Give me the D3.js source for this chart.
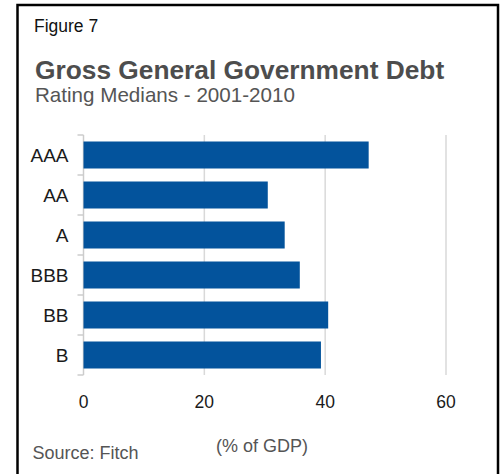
<!DOCTYPE html>
<html>
<head>
<meta charset="utf-8">
<script src="https://cdn.jsdelivr.net/npm/d3@7"></script>
<style>
  html, body { margin: 0; padding: 0; background: #fff; }
  svg { display: block; font-family: "Liberation Sans", Arial, sans-serif; }
</style>
</head>
<body>
<svg id="chart" width="502" height="474"></svg>
<script>
// Rating categories and gross general government debt medians (% of GDP)
const ratings = ["AAA", "AA", "A", "BBB", "BB", "B"];
const debtMedians = [47.2, 30.5, 33.3, 35.8, 40.5, 39.3];
const xTicks = [0, 20, 40, 60];

const figureLabel = "Figure 7";
const title = "Gross General Government Debt";
const subtitle = "Rating Medians - 2001-2010";
const axisTitle = "(% of GDP)";
const source = "Source: Fitch";

const svg = d3.select("#chart");

// Frame around the figure (open at the bottom edge of the page)
svg.append("rect")
  .attr("x", 17.5).attr("y", 5)
  .attr("width", 480.5).attr("height", 520)
  .attr("fill", "none")
  .attr("stroke", "#000")
  .attr("stroke-width", 2.5);

svg.append("text")
  .attr("x", 34).attr("y", 31.5)
  .attr("font-size", 17.5).attr("fill", "#111")
  .text(figureLabel);

svg.append("text")
  .attr("x", 35).attr("y", 78.5)
  .attr("font-size", 26.3).attr("font-weight", "bold").attr("fill", "#4d4d4d")
  .text(title);

svg.append("text")
  .attr("x", 35).attr("y", 102)
  .attr("font-size", 20.6).attr("fill", "#555")
  .text(subtitle);

const x = d3.scaleLinear().domain([0, 60]).range([83.5, 446]);
const y = d3.scaleBand().domain(ratings).range([135, 375])
  .paddingInner(0.325).paddingOuter(0.1625);
const step = y.step();

// Vertical gridlines
svg.append("g")
  .selectAll("line")
  .data(xTicks.filter(t => t > 0))
  .join("line")
  .attr("x1", d => x(d)).attr("x2", d => x(d))
  .attr("y1", 135).attr("y2", 375)
  .attr("stroke", "#d9d9d9").attr("stroke-width", 1.5);

// Category axis line and band separators
svg.append("line")
  .attr("x1", x(0)).attr("x2", x(0))
  .attr("y1", 135).attr("y2", 375)
  .attr("stroke", "#cccccc").attr("stroke-width", 1.5);

const boundaries = ratings.map(r => y(r) - step * y.paddingInner() / 2)
  .concat([y(ratings[ratings.length - 1]) + y.bandwidth() + step * y.paddingInner() / 2]);
svg.append("g")
  .selectAll("line")
  .data(boundaries)
  .join("line")
  .attr("x1", x(0) - 6).attr("x2", x(0))
  .attr("y1", d => d).attr("y2", d => d)
  .attr("stroke", "#cccccc").attr("stroke-width", 1.5);

// Bars
svg.append("g")
  .selectAll("rect")
  .data(ratings.map((r, i) => ({ r, v: debtMedians[i] })))
  .join("rect")
  .attr("x", x(0))
  .attr("y", d => y(d.r))
  .attr("width", d => x(d.v) - x(0))
  .attr("height", y.bandwidth())
  .attr("fill", "#03539c");

// Category labels
svg.append("g")
  .selectAll("text")
  .data(ratings)
  .join("text")
  .attr("x", 68.5)
  .attr("y", d => y(d) + y.bandwidth() / 2)
  .attr("dy", "0.36em")
  .attr("text-anchor", "end")
  .attr("font-size", 19)
  .attr("fill", "#1a1a1a")
  .text(d => d);

// Value axis tick labels
svg.append("g")
  .selectAll("text")
  .data(xTicks)
  .join("text")
  .attr("x", d => x(d))
  .attr("y", 408)
  .attr("text-anchor", "middle")
  .attr("font-size", 17.5)
  .attr("fill", "#1a1a1a")
  .text(d => d);

svg.append("text")
  .attr("x", 262).attr("y", 451.5)
  .attr("text-anchor", "middle")
  .attr("font-size", 18).attr("fill", "#555")
  .text(axisTitle);

svg.append("text")
  .attr("x", 32.5).attr("y", 459)
  .attr("font-size", 18).attr("fill", "#555")
  .text(source);
</script>
</body>
</html>
